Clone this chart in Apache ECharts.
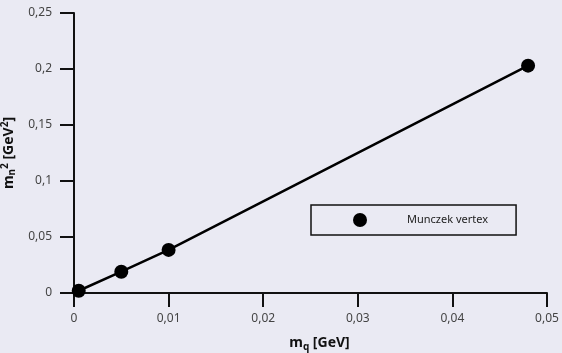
<!DOCTYPE html>
<html>
<head>
<meta charset="UTF-8">
<title>Munczek vertex</title>
<script src="https://cdn.jsdelivr.net/npm/echarts@6/dist/echarts.min.js"></script>
<style>
body { margin: 0; padding: 0; background: #eaeaf3; }
#main { width: 562px; height: 353px; }
</style>
</head>
<body>
<div id="main"></div>
<script>
// quark mass m_q [GeV] vs m_n^2 [GeV^2]
var mq = [0.0005, 0.005, 0.01, 0.048];
var mn2 = [0.002, 0.019, 0.0385, 0.203];
var seriesName = 'Munczek vertex';

var points = [];
for (var i = 0; i < mq.length; i++) {
	points.push([mq[i], mn2[i]]);
}

function comma(v) {
	return String(parseFloat(v.toFixed(4))).replace('.', ',');
}

var chart = echarts.init(document.getElementById('main'));
var font = '"Noto Sans", "Open Sans", sans-serif';
var option = {
	backgroundColor: '#eaeaf3',
	textStyle: { fontFamily: font },
	grid: {
		left: 74,
		right: 15,
		top: 13,
		bottom: 60,
		outerBoundsMode: 'none'
	},
	legend: {
		data: [seriesName],
		left: 311,
		top: 205,
		icon: 'circle',
		itemWidth: 14,
		itemHeight: 14,
		padding: [8, 28, 8, 42],
		borderColor: '#111',
		borderWidth: 1.5,
		borderRadius: 0,
		textStyle: {
			fontSize: 11,
			color: '#222',
			fontFamily: font,
			padding: [0, 0, 0, 35]
		}
	},
	xAxis: {
		type: 'value',
		min: 0,
		max: 0.05,
		interval: 0.01,
		name: '{b|m}{sub|q}{b| [GeV]}',
		nameLocation: 'middle',
		nameGap: 42,
		nameTextStyle: {
			padding: [0, 0, 0, 18],
			rich: {
				b: { fontSize: 14, fontWeight: 'bold', color: '#111', fontFamily: font },
				sub: { fontSize: 10, fontWeight: 'bold', color: '#111', fontFamily: font, padding: [7, 0, 0, 0] }
			}
		},
		axisLine: { onZero: false, lineStyle: { color: '#111', width: 2 } },
		axisTick: { inside: false, length: 14, lineStyle: { color: '#111', width: 2 } },
		axisLabel: { margin: 20, fontSize: 12, color: '#444', formatter: comma },
		splitLine: { show: false }
	},
	yAxis: {
		type: 'value',
		min: 0,
		max: 0.25,
		interval: 0.05,
		name: '{b|m}{sub|n}{sup|2}{b| [GeV}{sup|2}{b|]}',
		nameLocation: 'middle',
		nameRotate: 90,
		nameGap: 48,
		nameTextStyle: {
			rich: {
				b: { fontSize: 14, fontWeight: 'bold', color: '#111', fontFamily: font },
				sub: { fontSize: 10, fontWeight: 'bold', color: '#111', fontFamily: font, padding: [7, 0, 0, 0] },
				sup: { fontSize: 10, fontWeight: 'bold', color: '#111', fontFamily: font, padding: [0, 0, 7, 0] }
			}
		},
		axisLine: { show: true, onZero: false, lineStyle: { color: '#111', width: 2 } },
		axisTick: { show: true, inside: false, length: 14, lineStyle: { color: '#111', width: 2 } },
		axisLabel: { margin: 22, fontSize: 12, color: '#444', formatter: comma },
		splitLine: { show: false }
	},
	series: [{
		name: seriesName,
		type: 'line',
		data: points,
		symbol: 'circle',
		symbolSize: 14,
		itemStyle: { color: '#000' },
		lineStyle: { color: '#000', width: 2.5 },
		animation: false
	}]
};
chart.setOption(option);
</script>
</body>
</html>
